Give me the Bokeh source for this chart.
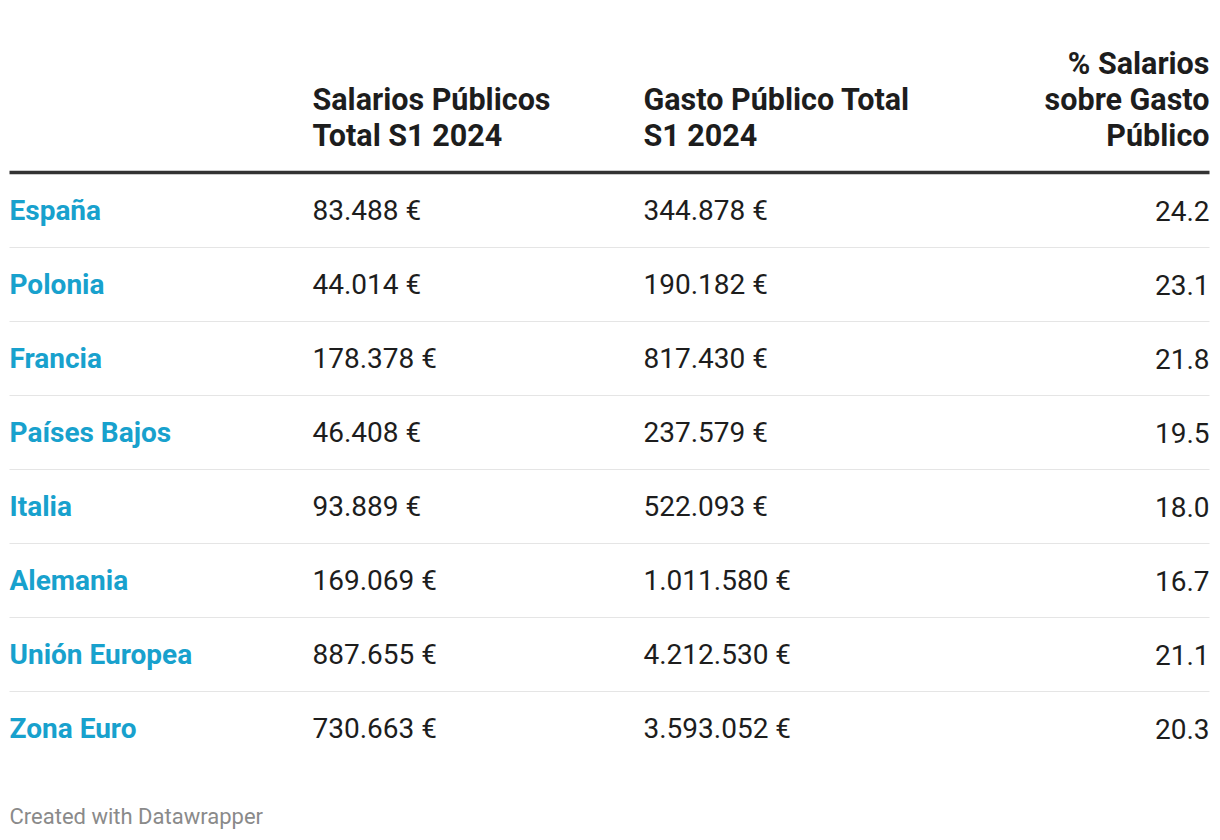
from bokeh.plotting import figure
from bokeh.models import Range1d, ColumnDataSource
from bokeh.core.properties import value
from bokeh.embed import file_html
from bokeh.resources import INLINE

countries = ["España", "Polonia", "Francia", "Países Bajos", "Italia",
             "Alemania", "Unión Europea", "Zona Euro"]
salarios = ["83.488 €", "44.014 €", "178.378 €", "46.408 €", "93.889 €",
            "169.069 €", "887.655 €", "730.663 €"]
gasto = ["344.878 €", "190.182 €", "817.430 €", "237.579 €", "522.093 €",
         "1.011.580 €", "4.212.530 €", "3.593.052 €"]
pct = [24.2, 23.1, 21.8, 19.5, 18.0, 16.7, 21.1, 20.3]

header_col2 = ["Salarios Públicos", "Total S1 2024"]
header_col3 = ["Gasto Público Total", "S1 2024"]
header_col4 = ["% Salarios", "sobre Gasto", "Público"]
footer = "Created with Datawrapper"

FONT = "Roboto"
W, H = 1216, 836
p = figure(width=W, height=H, x_range=Range1d(1, W + 1), y_range=Range1d(H, 0),
           output_backend="svg", toolbar_location=None, min_border=0)
p.axis.visible = False
p.grid.visible = False
p.outline_line_color = None
p.background_fill_color = "white"

X_LEFT, X_C2, X_C3, X_RIGHT = 10, 313, 644, 1210
ROW0, PITCH = 210, 74
HEAD_BOTTOM, LH = 135, 36
n = len(countries)
row_y = [ROW0 + i * PITCH for i in range(n)]

# header
hdr_font = "30.5px"
def header(lines, x, align):
    ys = [HEAD_BOTTOM - LH * (len(lines) - 1 - k) for k in range(len(lines))]
    p.text(x=[x] * len(lines), y=ys, text=lines, text_font=value(FONT),
           text_font_style="bold", text_font_size=hdr_font, text_color="#1d1d1d",
           text_align=align, text_baseline="middle")
header(header_col2, X_C2, "left")
header(header_col3, X_C3, "left")
header(header_col4, X_RIGHT, "right")

# rules
p.segment(x0=[X_LEFT], x1=[X_RIGHT], y0=[172], y1=[172], line_color="#333333", line_width=3.5)
sep_y = [ROW0 + PITCH / 2 + i * PITCH for i in range(n - 1)]
p.segment(x0=[X_LEFT] * len(sep_y), x1=[X_RIGHT] * len(sep_y), y0=sep_y, y1=sep_y,
          line_color="#e5e5e5", line_width=1)

src = ColumnDataSource(dict(y=row_y, c=countries, s=salarios, g=gasto,
                            pc=[f"{v:.1f}" for v in pct]))
body_font = "28px"
p.text(x=X_LEFT, y="y", text="c", source=src, text_font=value(FONT), text_font_style="bold",
       text_font_size=body_font, text_color="#18a1cd", text_align="left", text_baseline="middle")
p.text(x=X_C2, y="y", text="s", source=src, text_font=value(FONT),
       text_font_size=body_font, text_color="#1d1d1d", text_align="left", text_baseline="middle")
p.text(x=X_C3, y="y", text="g", source=src, text_font=value(FONT),
       text_font_size=body_font, text_color="#1d1d1d", text_align="left", text_baseline="middle")
p.text(x=X_RIGHT, y="y", text="pc", source=src, text_font=value(FONT),
       text_font_size=body_font, text_color="#1d1d1d", text_align="right", text_baseline="middle")

p.text(x=[X_LEFT], y=[816], text=[footer], text_font=value(FONT), text_font_size="22px",
       text_color="#8a8a8a", text_align="left", text_baseline="middle")

open("out.html", "w").write(file_html(p, INLINE))
